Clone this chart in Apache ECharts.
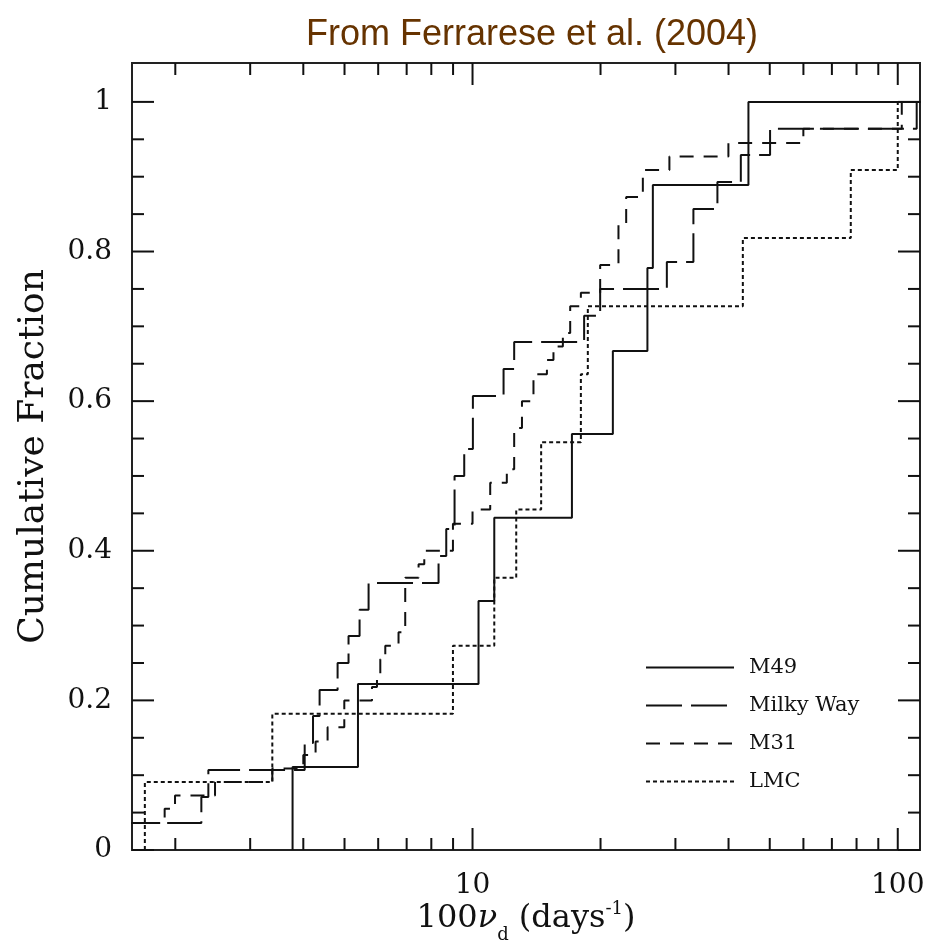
<!DOCTYPE html>
<html>
<head>
<meta charset="utf-8">
<script src="https://cdn.jsdelivr.net/npm/echarts@6/dist/echarts.min.js"></script>
<style>
html,body{margin:0;padding:0;background:#fff;}
#chart{width:940px;height:949px;}
</style>
</head>
<body>
<div id="chart"></div>
<script>
// ---------------- data ----------------
const seriesNames = ['M49', 'Milky Way', 'M31', 'LMC'];

// decay rate (100 nu_d, days^-1) at which each step occurs, and level reached
const m49Rates  = [3.774, 3.774, 5.378, 10.33, 11.25, 17.13, 21.38, 25.78, 26.55, 44.55];
const m49Levels = [0,     0.111, 0.222, 0.333, 0.444, 0.556, 0.667, 0.778, 0.889, 1.000];

const mwRates  = [1.50, 2.303, 2.392, 4.030, 4.216, 4.369, 4.816, 5.110, 5.425, 5.696, 8.320, 8.674, 9.073,
                  9.561, 10.02, 11.83, 12.53, 18.30, 19.96, 28.64, 33.07, 37.66, 42.75, 50.09, 110.8];
const mwLevels = [0.036, 0.071, 0.107, 0.143, 0.179, 0.214, 0.250, 0.286, 0.321, 0.357, 0.393, 0.429, 0.500,
                  0.536, 0.607, 0.643, 0.679, 0.714, 0.750, 0.786, 0.857, 0.893, 0.929, 0.964, 1.000];

const m31Rates  = [1.50, 1.888, 1.997, 2.480, 3.382, 4.000, 4.275, 4.562, 4.994, 5.802, 5.961, 6.069, 6.235,
                   6.699, 6.946, 7.467, 7.701, 8.994, 10.00, 11.005, 12.04, 12.53, 13.07, 13.91, 14.96, 15.50,
                   16.31, 16.97, 17.98, 19.96, 22.04, 22.98, 25.15, 29.04, 39.97, 59.98, 102.2];
const m31Levels = [0.036, 0.055, 0.073, 0.091, 0.109, 0.127, 0.145, 0.164, 0.200, 0.218, 0.236, 0.255, 0.273,
                   0.291, 0.364, 0.382, 0.400, 0.436, 0.455, 0.491, 0.509, 0.564, 0.600, 0.636, 0.655, 0.673,
                   0.691, 0.727, 0.745, 0.782, 0.836, 0.873, 0.909, 0.927, 0.945, 0.964, 1.000];

const lmcRates  = [1.696, 1.696, 3.382, 8.994, 11.25, 12.67, 14.50, 17.98, 18.67, 43.22, 77.54, 100.0];
const lmcLevels = [0,     0.091, 0.182, 0.273, 0.364, 0.455, 0.545, 0.636, 0.727, 0.818, 0.909, 1.000];

// axis ticks
const xMajorTicks = [10, 100];
const xMinorTicks = [2, 3, 4, 5, 6, 7, 8, 9, 20, 30, 40, 50, 60, 70, 80, 90];
const yMajorTicks = [0, 0.2, 0.4, 0.6, 0.8, 1.0];
const yMinorTicks = [0.05, 0.1, 0.15, 0.25, 0.3, 0.35, 0.45, 0.5, 0.55, 0.65, 0.7, 0.75, 0.85, 0.9, 0.95];

const xRange = [1.582, 112.8];
const yRange = [0, 1.052];

// ---------------- build options ----------------
const INK = '#111';
const SERIF = '"DejaVu Serif", "Liberation Serif", serif';

function stepData(rates, levels) {
  const d = rates.map((r, i) => [r, levels[i]]);
  d.push([xRange[1] * 1.2, levels[levels.length - 1]]);
  return d;
}

function lineSeries(name, rates, levels, dash, z) {
  return {
    name, type: 'line', step: 'end', symbol: 'none', showSymbol: false,
    data: stepData(rates, levels), clip: true, z: z,
    lineStyle: { color: INK, width: 2, type: dash },
    itemStyle: { color: INK },
    emphasis: { disabled: true }
  };
}

const xTickData = xMajorTicks.map(v => [v, 0.5, 1]).concat(xMinorTicks.map(v => [v, 0.5, 0]));
const yTickData = yMajorTicks.map(v => [3, v, 1]).concat(yMinorTicks.map(v => [3, v, 0]));

function renderXTick(params, api) {
  const cs = params.coordSys;
  const v = api.value(0), major = api.value(2);
  const px = api.coord([v, 0.5])[0];
  const len = major ? 22 : 12;
  const bottom = cs.y + cs.height, top = cs.y;
  const st = { stroke: INK, lineWidth: 2 };
  const children = [
    { type: 'line', shape: { x1: px, y1: bottom, x2: px, y2: bottom - len }, style: st },
    { type: 'line', shape: { x1: px, y1: top, x2: px, y2: top + len }, style: st }
  ];
  if (major) {
    children.push({
      type: 'text', x: px, y: bottom + 22,
      style: { text: String(v), fontFamily: SERIF, fontSize: 28, fill: INK, align: 'center', verticalAlign: 'top' }
    });
  }
  return { type: 'group', children };
}

function renderYTick(params, api) {
  const cs = params.coordSys;
  const v = api.value(1), major = api.value(2);
  const py = api.coord([3, v])[1];
  const len = major ? 22 : 12;
  const left = cs.x, right = cs.x + cs.width;
  const st = { stroke: INK, lineWidth: 2 };
  return {
    type: 'group', children: [
      { type: 'line', shape: { x1: left, y1: py, x2: left + len, y2: py }, style: st },
      { type: 'line', shape: { x1: right, y1: py, x2: right - len, y2: py }, style: st }
    ]
  };
}

const option = {
  animation: false,
  backgroundColor: '#fff',
  title: {
    text: 'From Ferrarese et al. (2004)',
    left: 527, top: 12, textAlign: 'center',
    textStyle: { color: '#663300', fontFamily: '"Liberation Sans", Arial, sans-serif', fontSize: 36, fontWeight: 'normal' }
  },
  grid: { left: 132, right: 20, top: 63, bottom: 97, show: true, borderColor: '#222', borderWidth: 2, backgroundColor: 'transparent' },
  legend: {
    orient: 'vertical', left: 640, top: 652,
    itemWidth: 88, itemHeight: 20, itemGap: 17,
    data: seriesNames,
    itemStyle: { opacity: 0, color: 'transparent', borderWidth: 0 },
    textStyle: { fontFamily: SERIF, fontSize: 21, color: INK, padding: [0, 0, 0, 10] },
    selectedMode: false
  },
  xAxis: {
    type: 'log', logBase: 10, min: xRange[0], max: xRange[1],
    axisLine: { show: false }, axisTick: { show: false }, axisLabel: { show: false }, splitLine: { show: false },
    name: '100{nu|ν}{sub|d} (days{sup|-1})',
    nameLocation: 'middle', nameGap: 50,
    nameTextStyle: {
      fontFamily: SERIF, fontSize: 32, color: INK, lineHeight: 38,
      rich: {
        nu: { fontFamily: SERIF, fontSize: 32, fontStyle: 'italic', color: INK, lineHeight: 38 },
        sub: { fontFamily: SERIF, fontSize: 18, color: INK, verticalAlign: 'bottom', lineHeight: 18, padding: [0, 0, -6, 0] },
        sup: { fontFamily: SERIF, fontSize: 18, color: INK, verticalAlign: 'top', lineHeight: 18 }
      }
    }
  },
  yAxis: {
    type: 'value', min: yRange[0], max: yRange[1], interval: 0.2,
    axisLine: { show: false }, axisTick: { show: false }, splitLine: { show: false },
    axisLabel: {
      margin: 20, fontFamily: SERIF, fontSize: 28, color: INK,
      formatter: v => (v > 1.001 ? '' : String(+v.toFixed(1)))
    },
    name: 'Cumulative Fraction', nameLocation: 'middle', nameGap: 80,
    nameTextStyle: { fontFamily: SERIF, fontSize: 36, color: INK }
  },
  series: [
    lineSeries('M49', m49Rates, m49Levels, 'solid', 5),
    lineSeries('Milky Way', mwRates, mwLevels, [36, 9], 4),
    lineSeries('M31', m31Rates, m31Levels, [14, 10], 3),
    lineSeries('LMC', lmcRates, lmcLevels, [4, 3], 2),
    {
      type: 'custom', name: 'xticks', coordinateSystem: 'cartesian2d', clip: false, silent: true,
      dimensions: ['x', 'y', 'major'], encode: { x: 0, y: 1 },
      data: xTickData, renderItem: renderXTick, z: 6
    },
    {
      type: 'custom', name: 'yticks', coordinateSystem: 'cartesian2d', clip: false, silent: true,
      dimensions: ['x', 'y', 'major'], encode: { x: 0, y: 1 },
      data: yTickData, renderItem: renderYTick, z: 6
    }
  ]
};

const chart = echarts.init(document.getElementById('chart'), null, { renderer: 'canvas' });
chart.setOption(option);
</script>
</body>
</html>
